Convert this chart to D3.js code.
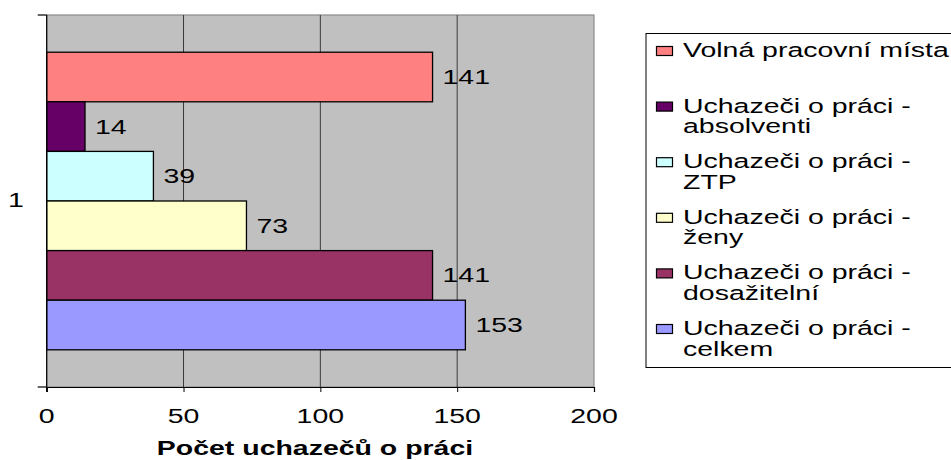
<!DOCTYPE html>
<html>
<head>
<meta charset="utf-8">
<script src="https://cdn.jsdelivr.net/npm/d3@7"></script>
<style>
  html, body { margin: 0; padding: 0; background: #ffffff; }
  svg { display: block; }
  text { font-family: "Liberation Sans", Arial, sans-serif; fill: #000; }
</style>
</head>
<body>
<svg id="chart" width="951" height="460"></svg>
<script>
// ---- data ----
const categories = ["1"];
const seriesNames = [
  "Volná pracovní místa",
  "Uchazeči o práci - absolventi",
  "Uchazeči o práci - ZTP",
  "Uchazeči o práci - ženy",
  "Uchazeči o práci - dosažitelní",
  "Uchazeči o práci - celkem"
];
const legendLines = [
  ["Volná pracovní místa"],
  ["Uchazeči o práci -", "absolventi"],
  ["Uchazeči o práci -", "ZTP"],
  ["Uchazeči o práci -", "ženy"],
  ["Uchazeči o práci -", "dosažitelní"],
  ["Uchazeči o práci -", "celkem"]
];
const seriesValues = [141, 14, 39, 73, 141, 153];
const seriesColors = ["#FF8080", "#660066", "#CCFFFF", "#FFFFCC", "#993366", "#9999FF"];
const xTicks = [0, 50, 100, 150, 200];
const xTitle = "Počet uchazečů o práci";

// ---- layout ----
const SX = 1.46;           // horizontal stretch of the reference text
const FS = 19.5;
const plot = { left: 46.7, right: 594, top: 15, bottom: 387 };

const svg = d3.select("#chart");

function txt(g, x, y, s, anchor, opts = {}) {
  return g.append("text")
    .attr("transform", `translate(${x},${y}) scale(${SX},1)`)
    .attr("text-anchor", anchor)
    .attr("font-size", opts.size || FS)
    .attr("font-weight", opts.weight || "normal")
    .text(s);
}

const x = d3.scaleLinear().domain([0, 200]).range([plot.left, plot.right]);
const yCat = d3.scaleBand().domain(categories).range([plot.top, plot.bottom])
  .paddingInner(0).paddingOuter(0.125);
const ySer = d3.scaleBand().domain(seriesNames).range([0, yCat.bandwidth()]).padding(0);

// plot background
svg.append("rect")
  .attr("x", plot.left).attr("y", plot.top)
  .attr("width", plot.right - plot.left).attr("height", plot.bottom - plot.top)
  .attr("fill", "#C0C0C0").attr("stroke", "#8a8a8a").attr("stroke-width", 1.2);

// gridlines
svg.append("g").selectAll("line").data(xTicks.filter(t => t > 0 && t < 200)).join("line")
  .attr("x1", d => x(d)).attr("x2", d => x(d))
  .attr("y1", plot.top).attr("y2", plot.bottom)
  .attr("stroke", "#3a3a3a").attr("stroke-width", 1);

// bars
const bars = svg.append("g");
categories.forEach(cat => {
  seriesNames.forEach((s, i) => {
    const y0 = yCat(cat) + ySer(s);
    bars.append("rect")
      .attr("x", x(0)).attr("y", y0)
      .attr("width", x(seriesValues[i]) - x(0)).attr("height", ySer.bandwidth())
      .attr("fill", seriesColors[i]).attr("stroke", "#000").attr("stroke-width", 1.3);
    txt(bars, x(seriesValues[i]) + 10, y0 + ySer.bandwidth() / 2 + 7, String(seriesValues[i]), "start");
  });
});

// axes lines
const axisG = svg.append("g");
// x axis
axisG.append("g")
  .attr("transform", `translate(0,${plot.bottom})`)
  .call(d3.axisBottom(x).tickValues(xTicks).tickSize(5).tickFormat(""))
  .call(g => g.select(".domain").attr("stroke", "#000").attr("stroke-width", 1.2))
  .call(g => g.selectAll(".tick line").attr("stroke", "#000"));
xTicks.forEach(t => txt(axisG, x(t), 423, String(t), "middle"));

// y axis
axisG.append("line")
  .attr("x1", plot.left).attr("x2", plot.left)
  .attr("y1", plot.top).attr("y2", plot.bottom + 5)
  .attr("stroke", "#000").attr("stroke-width", 1.2);
[plot.top, plot.bottom].forEach(yy => axisG.append("line")
  .attr("x1", plot.left - 9).attr("x2", plot.left)
  .attr("y1", yy).attr("y2", yy)
  .attr("stroke", "#000").attr("stroke-width", 1.2));
categories.forEach(c => txt(axisG, 16, yCat(c) + yCat.bandwidth() / 2 + 6, c, "middle"));

// x axis title
txt(svg, 315, 455, xTitle, "middle", { weight: "bold" });

// legend
const lg = svg.append("g");
lg.append("rect").attr("x", 646).attr("y", 33.5).attr("width", 320).attr("height", 334)
  .attr("fill", "#fff").attr("stroke", "#000").attr("stroke-width", 1);
legendLines.forEach((lines, i) => {
  const cy = 51 + i * 55.6;
  lg.append("rect").attr("x", 656.5).attr("y", cy - 4.5).attr("width", 16).attr("height", 9)
    .attr("fill", seriesColors[i]).attr("stroke", "#000").attr("stroke-width", 1.2);
  lines.forEach((ln, j) => txt(lg, 683, cy + 6 + j * 20.5, ln, "start"));
});
</script>
</body>
</html>
